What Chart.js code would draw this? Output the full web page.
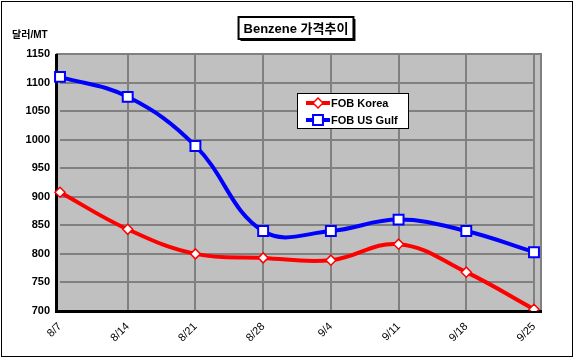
<!DOCTYPE html>
<html>
<head>
<meta charset="utf-8">
<script src="https://cdn.jsdelivr.net/npm/chart.js@4"></script>
<style>
  body { margin: 0; background: #fff; }
  #wrap { width: 575px; height: 362px; }
</style>
</head>
<body>
<div id="wrap"><canvas id="chart" width="575" height="362"></canvas></div>
<script>
// data
const weeks = ['8/7', '8/14', '8/21', '8/28', '9/4', '9/11', '9/18', '9/25'];
const fobKorea = [908, 843, 800, 793, 789, 817, 768, 703];
const fobUsGulf = [1110, 1075, 989, 840, 840, 860, 840, 803];
const chartTitle = 'Benzene 가격추이';
const yUnit = '달러/MT';

const FONT = "'Liberation Sans', Arial, 'Noto Sans CJK KR', sans-serif";

// plot frame, legend box and title drawn by hand (excel look)
const excelLook = {
    id: 'excelLook',
    beforeDraw(chart) {
        const ctx = chart.ctx;
        const a = chart.chartArea;
        ctx.save();
        ctx.fillStyle = '#fff';
        ctx.fillRect(0, 0, chart.width, chart.height);
        ctx.strokeStyle = '#000';
        ctx.lineWidth = 1;
        ctx.strokeRect(1.5, 1.5, 571, 355);
        // gray wall
        ctx.fillStyle = '#c0c0c0';
        ctx.fillRect(56, a.top, 542 - 56, a.bottom - a.top);
        ctx.restore();
    },
    beforeDatasetsDraw(chart) {
        const ctx = chart.ctx;
        const a = chart.chartArea;
        ctx.save();
        ctx.strokeStyle = '#808080';
        ctx.lineWidth = 2;
        ctx.beginPath();
        ctx.moveTo(56, a.top);
        ctx.lineTo(541, a.top);
        ctx.lineTo(541, a.bottom);
        ctx.stroke();
        ctx.strokeStyle = '#000';
        ctx.lineWidth = 3;
        ctx.beginPath();
        ctx.moveTo(56.5, a.top);
        ctx.lineTo(56.5, a.bottom + 0.5);
        ctx.lineTo(542, a.bottom + 0.5);
        ctx.stroke();
        ctx.restore();
    },
    afterDraw(chart) {
        const ctx = chart.ctx;
        ctx.save();
        // title box
        ctx.font = 'bold 13px ' + FONT;
        const tw = ctx.measureText(chartTitle).width;
        const bx = 296 - tw / 2 - 5, by = 17, bw = tw + 10, bh = 22;
        ctx.fillStyle = '#000';
        ctx.fillRect(bx + 2, by + 2, bw, bh);
        ctx.fillStyle = '#fff';
        ctx.fillRect(bx, by, bw, bh);
        ctx.strokeStyle = '#000';
        ctx.lineWidth = 2;
        ctx.strokeRect(bx, by, bw, bh);
        ctx.fillStyle = '#000';
        ctx.textBaseline = 'middle';
        ctx.textAlign = 'center';
        ctx.fillText(chartTitle, 296, by + bh / 2 + 1);

        // unit label
        ctx.font = 'bold 10px ' + FONT;
        ctx.textAlign = 'left';
        ctx.fillText(yUnit, 12, 35);

        // legend
        const lx = 297, ly = 93, lw = 111, lh = 35;
        ctx.fillStyle = '#fff';
        ctx.fillRect(lx, ly, lw, lh);
        ctx.strokeStyle = '#000';
        ctx.lineWidth = 1;
        ctx.strokeRect(lx + 0.5, ly + 0.5, lw, lh);
        chart.data.datasets.forEach((ds, i) => {
            const yy = ly + 10 + i * 17;
            const mx = lx + 21;
            ctx.strokeStyle = ds.borderColor;
            ctx.lineWidth = 4;
            ctx.beginPath();
            ctx.moveTo(lx + 9, yy);
            ctx.lineTo(lx + 33, yy);
            ctx.stroke();
            ctx.fillStyle = '#fff';
            ctx.lineWidth = ds.pointBorderWidth;
            ctx.beginPath();
            if (ds.pointStyle === 'rect') {
                const s = ds.pointRadius * Math.SQRT1_2;
                ctx.rect(mx - s, yy - s, 2 * s, 2 * s);
            } else {
                const r = ds.pointRadius;
                ctx.moveTo(mx, yy - r);
                ctx.lineTo(mx + r, yy);
                ctx.lineTo(mx, yy + r);
                ctx.lineTo(mx - r, yy);
                ctx.closePath();
            }
            ctx.fill();
            ctx.stroke();
            ctx.fillStyle = '#000';
            ctx.font = 'bold 11px ' + FONT;
            ctx.textAlign = 'left';
            ctx.fillText(ds.label, lx + 34, yy + 1);
        });
        ctx.restore();
    }
};

const config = {
    type: 'line',
    data: {
        labels: weeks,
        datasets: [
            {
                label: 'FOB Korea',
                data: fobKorea,
                borderColor: '#ff0000',
                backgroundColor: '#ffffff',
                borderWidth: 4,
                tension: 0.4,
                pointStyle: 'rectRot',
                pointRadius: 5,
                pointBorderWidth: 1.5,
                pointBorderColor: '#ff0000',
                pointBackgroundColor: '#ffffff'
            },
            {
                label: 'FOB US Gulf',
                data: fobUsGulf,
                borderColor: '#0000ff',
                backgroundColor: '#ffffff',
                borderWidth: 4,
                tension: 0.4,
                pointStyle: 'rect',
                pointRadius: 7,
                pointBorderWidth: 2,
                pointBorderColor: '#0000ff',
                pointBackgroundColor: '#ffffff'
            }
        ]
    },
    options: {
        responsive: false,
        animation: false,
        layout: { padding: { left: 8, top: 54, right: 41, bottom: 5 } },
        plugins: {
            legend: { display: false },
            title: { display: false },
            tooltip: { enabled: false }
        },
        scales: {
            x: {
                offset: false,
                afterFit: (s) => { s.height = 46; },
                border: { display: false },
                grid: {
                    color: (c) => c.index === 0 ? 'rgba(0,0,0,0)' : '#808080',
                    lineWidth: 2,
                    drawTicks: false
                },
                ticks: {
                    autoSkip: false,
                    minRotation: 45,
                    maxRotation: 45,
                    padding: 9,
                    color: '#000',
                    font: { family: FONT, size: 11 }
                }
            },
            y: {
                min: 700,
                max: 1150,
                afterFit: (s) => { s.width = 52; },
                border: { display: false },
                grid: { color: '#808080', lineWidth: 2, drawTicks: false },
                ticks: {
                    stepSize: 50,
                    padding: 10,
                    color: '#000',
                    callback: (v) => String(v),
                    font: { family: FONT, size: 11, weight: 'bold' }
                }
            }
        }
    },
    plugins: [excelLook]
};

new Chart(document.getElementById('chart').getContext('2d'), config);
</script>
</body>
</html>
